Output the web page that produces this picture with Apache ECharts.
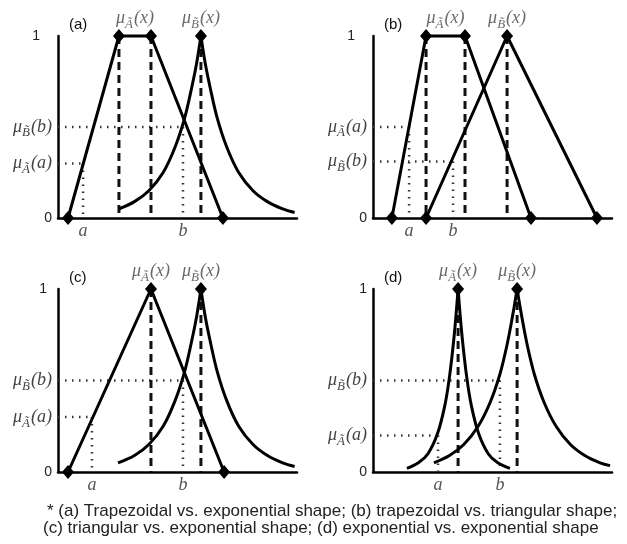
<!DOCTYPE html>
<html lang="en">
<head>
<meta charset="UTF-8">
<title>membership functions</title>
<script src="https://cdn.jsdelivr.net/npm/echarts@6.0.0/dist/echarts.min.js"></script>
<style>
  html, body { margin: 0; padding: 0; background: #fff; }
  #main { width: 627px; height: 544px; }
</style>
</head>
<body>
<div id="main"></div>
<script>
// tick labels
var yTickLabels = ['0', '1'];
var xTickNames = ['a', 'b'];
var panelNames = ['(a)', '(b)', '(c)', '(d)'];
var captionLines = [
    '* (a) Trapezoidal vs. exponential shape; (b) trapezoidal vs. triangular shape;',
    '(c) triangular vs. exponential shape; (d) exponential vs. exponential shape'
];

// (a) trapezoid A, exponential B
var aAx = [4.2, 25.5, 38.9, 69];
var aAy = [0, 1, 1, 0];
var aBleftX = [25.5, 32, 38, 44, 49, 53, 56, 58, 59.8];
var aBleftY = [0.05, 0.09, 0.15, 0.25, 0.39, 0.55, 0.72, 0.85, 1];
var aBrightX = [59.8, 61.6, 63.6, 66.6, 70.6, 75.6, 81.6, 87.6, 94, 99];
var aBrightY = [1, 0.85, 0.72, 0.55, 0.39, 0.25, 0.15, 0.09, 0.05, 0.03];
var aPts = [10.5, 52.3];      // a, b
var aMu = [0.30, 0.50];       // mu_A(a), mu_B(b)

// (b) trapezoid A, triangle B
var bAx = [7.9, 22.2, 38.5, 66.1];
var bAy = [0, 1, 1, 0];
var bBx = [22.2, 56.1, 93.7];
var bBy = [0, 1, 0];
var bPts = [15.1, 33.5];
var bMu = [0.50, 0.31];

// (c) triangle A, exponential B
var cAx = [4.2, 38.9, 69.5];
var cAy = [0, 1, 0];
var cBleftX = [25.1, 32, 38, 44, 49, 53, 56, 58, 59.8];
var cBleftY = [0.05, 0.09, 0.15, 0.25, 0.39, 0.55, 0.72, 0.85, 1];
var cBrightX = [59.8, 61.6, 63.6, 66.6, 70.6, 75.6, 81.6, 87.6, 94, 99];
var cBrightY = [1, 0.85, 0.72, 0.55, 0.39, 0.25, 0.15, 0.09, 0.05, 0.03];
var cPts = [14.2, 52.3];
var cMu = [0.30, 0.50];

// (d) exponential A, exponential B
var dAleftX = [14.2, 19, 23, 27, 30, 32, 34, 35.6];
var dAleftY = [0.02, 0.05, 0.10, 0.21, 0.36, 0.52, 0.75, 1];
var dArightX = [35.6, 37.2, 39.2, 41.2, 44.2, 48.2, 52.2, 57.3];
var dArightY = [1, 0.75, 0.52, 0.36, 0.21, 0.10, 0.05, 0.02];
var dBleftX = [25.5, 32, 38, 44, 49, 53, 56, 58.5, 60.3];
var dBleftY = [0.05, 0.09, 0.15, 0.25, 0.38, 0.53, 0.69, 0.86, 1];
var dBrightX = [60.3, 62.1, 64.6, 67.6, 71.6, 76.6, 82.6, 88.6, 95, 99.2];
var dBrightY = [1, 0.86, 0.69, 0.53, 0.38, 0.25, 0.15, 0.09, 0.05, 0.035];
var dPts = [27.2, 53.1];
var dMu = [0.20, 0.50];

var A_SUB = '\u00c3';
var B_SUB = 'B\u0303';

function poly(xs, ys) { return {kind: 'poly', x: xs, y: ys}; }
function expo(lx, ly, rx, ry) { return {kind: 'exp', lx: lx, ly: ly, rx: rx, ry: ry}; }

var panels = [
    {grid: {left: 58, top: 36, width: 239, height: 182}, onepad: 12,
     shapes: [poly(aAx, aAy), expo(aBleftX, aBleftY, aBrightX, aBrightY)], pts: aPts, mu: aMu},
    {grid: {left: 373, top: 36, width: 239, height: 182}, onepad: 12,
     shapes: [poly(bAx, bAy), poly(bBx, bBy)], pts: bPts, mu: bMu},
    {grid: {left: 58, top: 289, width: 239, height: 183}, onepad: 5,
     shapes: [poly(cAx, cAy), expo(cBleftX, cBleftY, cBrightX, cBrightY)], pts: cPts, mu: cMu},
    {grid: {left: 373, top: 289, width: 239, height: 183}, onepad: 0,
     shapes: [expo(dAleftX, dAleftY, dArightX, dArightY), expo(dBleftX, dBleftY, dBrightX, dBrightY)], pts: dPts, mu: dMu}
];

function pairs(xs, ys) {
    return xs.map(function (x, k) { return [x, ys[k]]; });
}

function muText(sub, arg) {
    return '{m|\u03bc}{s|' + sub + '}{m|(' + arg + ')}';
}

var muRich = {
    m: {fontFamily: 'Liberation Serif', fontStyle: 'italic', fontSize: 18, color: '#444'},
    s: {fontFamily: 'Liberation Serif', fontStyle: 'italic', fontSize: 13, color: '#444', padding: [12, 1, 0, 0]}
};

function baseLine(i, data, style) {
    return {
        type: 'line', xAxisIndex: i, yAxisIndex: i, data: data,
        symbol: 'none', clip: false, silent: true, z: 2,
        lineStyle: style
    };
}

var grids = [], xAxes = [], yAxes = [], series = [], graphics = [];

panels.forEach(function (p, i) {
    grids.push(p.grid);
    xAxes.push({
        type: 'value', gridIndex: i, min: 0, max: 100,
        axisLine: {lineStyle: {color: '#000', width: 2.5}},
        axisTick: {show: false},
        splitLine: {show: false},
        axisLabel: {
            customValues: p.pts, margin: 4,
            fontFamily: 'Liberation Serif', fontStyle: 'italic', fontSize: 18, color: '#555',
            formatter: function (v) { return v === p.pts[0] ? xTickNames[0] : xTickNames[1]; }
        }
    });
    yAxes.push({
        type: 'value', gridIndex: i, min: 0, max: 1,
        axisLine: {show: true, lineStyle: {color: '#000', width: 2.5}},
        axisTick: {show: false},
        splitLine: {show: false},
        axisLabel: {
            customValues: [0, p.mu[0], p.mu[1], 1], margin: 6,
            formatter: function (v) {
                if (v === 0) return '{n|' + yTickLabels[0] + '}';
                if (v === 1) return '{one|' + yTickLabels[1] + '}';
                if (v === p.mu[0]) return muText(A_SUB, 'a');
                return muText(B_SUB, 'b');
            },
            rich: {
                m: muRich.m, s: muRich.s,
                n: {fontFamily: 'Liberation Sans', fontSize: 14, color: '#222'},
                one: {fontFamily: 'Liberation Sans', fontSize: 14, color: '#222', padding: [0, p.onepad, 0, 0]}
            }
        }
    });

    // dotted guides for a and b
    var dotted = {color: '#333', width: 2.5, type: [1.5, 5.5]};
    [0, 1].forEach(function (k) {
        var x = p.pts[k], m = p.mu[k];
        series.push(baseLine(i, [[0, m], [x, m]], dotted));
        series.push(baseLine(i, [[x, m], [x, 0]], dotted));
    });

    var dashed = {color: '#111', width: 3, type: [8, 5]};
    var letters = [A_SUB, B_SUB];
    p.shapes.forEach(function (s, k) {
        var tops = [];
        if (s.kind === 'poly') {
            s.x.forEach(function (x, j) { if (s.y[j] === 1) tops.push(x); });
            var line = baseLine(i, pairs(s.x, s.y), {color: '#000', width: 3});
            line.symbol = 'diamond';
            line.symbolSize = [12, 14];
            line.showSymbol = true;
            line.showAllSymbol = true;
            line.itemStyle = {color: '#000', opacity: 1};
            line.z = 4;
            series.push(line);
        } else {
            tops.push(s.lx[s.lx.length - 1]);
            var l = baseLine(i, pairs(s.lx, s.ly), {color: '#000', width: 3});
            l.smooth = 0.35; l.z = 4;
            var r = baseLine(i, pairs(s.rx, s.ry), {color: '#000', width: 3});
            r.smooth = 0.35; r.z = 4;
            series.push(l, r);
            series.push({
                type: 'scatter', xAxisIndex: i, yAxisIndex: i, data: [[tops[0], 1]],
                symbol: 'diamond', symbolSize: [12, 14], itemStyle: {color: '#000', opacity: 1},
                z: 5, silent: true
            });
        }
        tops.forEach(function (x) {
            series.push(baseLine(i, [[x, 1], [x, 0]], dashed));
        });
        var mid = tops.reduce(function (a, b) { return a + b; }, 0) / tops.length;
        series.push({
            type: 'scatter', xAxisIndex: i, yAxisIndex: i, data: [[mid, 1]],
            symbolSize: 0, silent: true,
            label: {
                show: true, position: 'top', distance: 5,
                formatter: muText(letters[k], 'x'),
                rich: muRich
            }
        });
    });

    graphics.push({
        type: 'text', left: p.grid.left + 11, top: p.grid.top - 19,
        style: {text: panelNames[i], font: '15px "Liberation Sans"', fill: '#111'}
    });
});

graphics.push({
    type: 'text', left: 47, top: 503,
    style: {text: captionLines[0], font: '17px "Liberation Sans"', fill: '#222'}
});
graphics.push({
    type: 'text', left: 43, top: 520,
    style: {text: captionLines[1], font: '17px "Liberation Sans"', fill: '#222'}
});

var chart = echarts.init(document.getElementById('main'));
chart.setOption({
    backgroundColor: '#fff',
    animation: false,
    grid: grids,
    xAxis: xAxes,
    yAxis: yAxes,
    series: series,
    graphic: graphics
});
</script>
</body>
</html>
